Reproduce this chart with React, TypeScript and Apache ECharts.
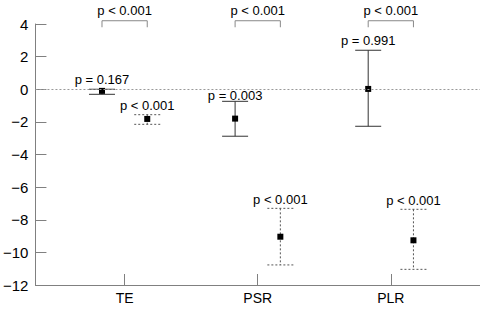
import React, { useEffect, useRef } from "react";
import * as echarts from "echarts";

const categories = ["TE", "PSR", "PLR"];
const catPos = [1, 2, 3];
// solid (left) estimates
const meanA = [-0.1, -1.8, 0.02];
const lowA = [-0.31, -2.88, -2.27];
const highA = [0.0, -0.74, 2.39];
const pA = ["p = 0.167", "p = 0.003", "p = 0.991"];
// dotted (right) estimates
const meanB = [-1.82, -9.04, -9.26];
const lowB = [-2.15, -10.77, -11.04];
const highB = [-1.56, -7.3, -7.36];
const pB = ["p < 0.001", "p < 0.001", "p < 0.001"];
// comparison brackets
const pCompare = ["p < 0.001", "p < 0.001", "p < 0.001"];
const yTicks = [-12, -10, -8, -6, -4, -2, 0, 2, 4];

const OFFSET = 0.17;
const FONT = '"Liberation Sans", Arial, sans-serif';
const labelNudgeA = [-9.5, -5.6, -9.5];
const labelNudgeB = [-9.3, -9.3, -9.3];

function makeErrorSeries(
  means: number[],
  lows: number[],
  highs: number[],
  labels: string[],
  dx: number,
  dotted: boolean,
  nudges: number[]
): any {
  const color = dotted ? "#555" : "#333";
  return {
    type: "custom",
    clip: false,
    data: means.map((m, i) => [catPos[i] + dx, m, lows[i], highs[i]]),
    renderItem: (params: any, api: any) => {
      const x = api.value(0);
      const pm = api.coord([x, api.value(1)]);
      const plo = api.coord([x, api.value(2)]);
      const phi = api.coord([x, api.value(3)]);
      const ls: any = { stroke: color, lineWidth: 1 };
      if (dotted) ls.lineDash = [2, 2];
      const cap = 13;
      return {
        type: "group",
        children: [
          { type: "line", shape: { x1: phi[0], y1: phi[1], x2: plo[0], y2: plo[1] }, style: ls },
          { type: "line", shape: { x1: phi[0] - cap, y1: phi[1], x2: phi[0] + cap, y2: phi[1] }, style: ls },
          { type: "line", shape: { x1: plo[0] - cap, y1: plo[1], x2: plo[0] + cap, y2: plo[1] }, style: ls },
          { type: "rect", shape: { x: pm[0] - 3, y: pm[1] - 3, width: 6, height: 6 }, style: { fill: "#000" } },
          {
            type: "text",
            style: {
              text: labels[params.dataIndex],
              x: phi[0],
              y: phi[1] + nudges[params.dataIndex],
              align: "center",
              verticalAlign: "middle",
              fontSize: 13,
              fontFamily: FONT,
              fill: "#000",
            },
          },
        ],
      };
    },
  };
}

export default function App() {
  const ref = useRef<HTMLDivElement>(null);
  useEffect(() => {
    if (!ref.current) return;
    const chart = echarts.init(ref.current, null, { renderer: "svg" });
    const axisColor = "#808080";
    const option: any = {
      animation: false,
      grid: { left: 32, right: 0, top: 24, bottom: 25, containLabel: false },
      xAxis: {
        type: "value",
        min: 0.33,
        max: 3.67,
        splitLine: { show: false },
        axisLine: { show: true, onZero: false, lineStyle: { color: axisColor, width: 1 } },
        axisTick: { show: true, inside: true, length: 11, customValues: catPos, lineStyle: { color: axisColor } },
        axisLabel: {
          customValues: catPos,
          formatter: (v: number) => categories[Math.round(v) - 1] ?? "",
          fontSize: 14,
          fontFamily: FONT,
          color: "#000",
          margin: 6,
        },
      },
      yAxis: {
        type: "value",
        min: -12,
        max: 4,
        interval: 2,
        splitLine: { show: false },
        axisLine: { show: true, onZero: false, lineStyle: { color: axisColor, width: 1 } },
        axisTick: { show: true, inside: true, length: 11, lineStyle: { color: axisColor } },
        axisLabel: {
          formatter: (v: number) => (yTicks.includes(v) ? (v < 0 ? "\u2212" + Math.abs(v) : String(v)) : ""),
          fontSize: 15,
          fontFamily: FONT,
          color: "#000",
          margin: 7,
        },
      },
      series: [
        {
          ...makeErrorSeries(meanA, lowA, highA, pA, -OFFSET, false, labelNudgeA),
          markLine: {
            silent: true,
            symbol: ["none", "none"],
            label: { show: false },
            lineStyle: { type: [2, 2], color: "#999", width: 1 },
            data: [{ yAxis: 0 }],
          },
        },
        makeErrorSeries(meanB, lowB, highB, pB, OFFSET, true, labelNudgeB),
        {
          type: "custom",
          clip: false,
          data: catPos.map((c) => [c - OFFSET, c + OFFSET]),
          renderItem: (params: any, api: any) => {
            const a = api.coord([api.value(0), 4.2]);
            const b = api.coord([api.value(1), 4.2]);
            const dy = api.coord([api.value(0), 3.8])[1];
            const ty = api.coord([api.value(0), 4.8])[1];
            const ls = { stroke: "#888", lineWidth: 1 };
            return {
              type: "group",
              children: [
                { type: "polyline", shape: { points: [[a[0], dy], [a[0], a[1]], [b[0], b[1]], [b[0], dy]] }, style: { ...ls, fill: "none" } },
                {
                  type: "text",
                  style: {
                    text: pCompare[params.dataIndex],
                    x: (a[0] + b[0]) / 2,
                    y: ty,
                    align: "center",
                    verticalAlign: "middle",
                    fontSize: 13,
                    fontFamily: FONT,
                    fill: "#000",
                  },
                },
              ],
            };
          },
        },
      ],
    };
    chart.setOption(option);
    return () => chart.dispose();
  }, []);
  return (
    <div
      ref={ref}
      style={{ position: "absolute", left: 0, top: 0, width: 480, height: 310, background: "#fff" }}
    />
  );
}
